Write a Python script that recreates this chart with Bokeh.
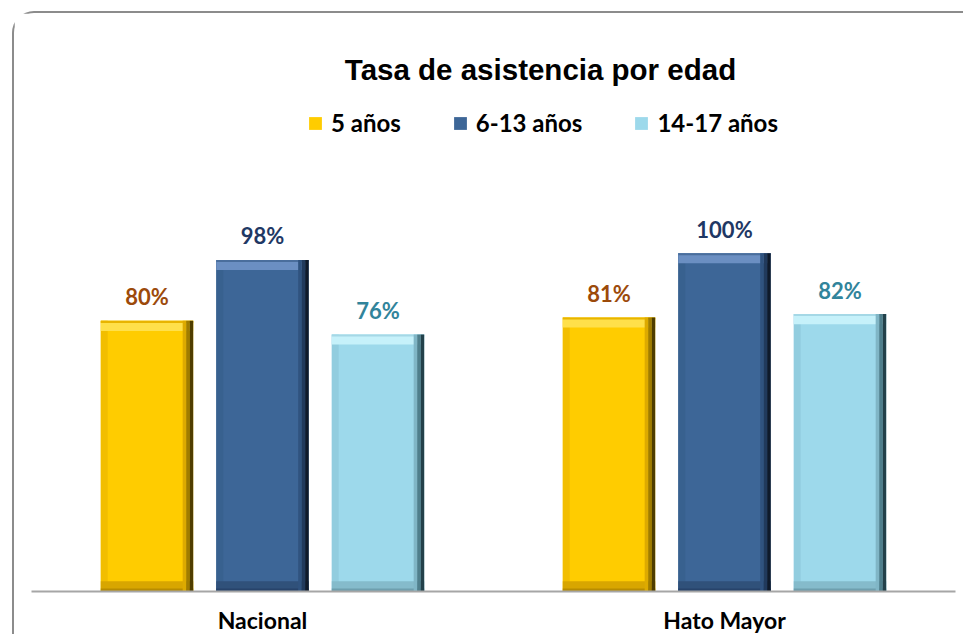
from bokeh.plotting import figure
from bokeh.models import ColumnDataSource, FactorRange, Range1d, Label, Legend, LegendItem
from bokeh.transform import dodge
from bokeh.core.properties import value
from bokeh.embed import file_html
from bokeh.resources import INLINE

# ---------------- data ----------------
categories = ["Nacional", "Hato Mayor"]
series_names = ["5 años", "6-13 años", "14-17 años"]
age_5 = [0.80, 0.81]
age_6_13 = [0.98, 1.00]
age_14_17 = [0.76, 0.82]
title_text = "Tasa de asistencia por edad"

series_values = [age_5, age_6_13, age_14_17]

# ---------------- styles ----------------
offsets = [-0.25, 0.0, 0.25]
bar_w = 0.2
main_colors = ["#FFCC00", "#3D6697", "#9DD9EB"]
top_edge = ["#E8B400", "#4A6E9C", "#A5D8E6"]
top_light = ["#FFE04A", "#6B8FC2", "#C6F1FA"]
left_colors = ["#F2BE00", "#38618F", "#92CDDF"]
right1 = ["#DDAA00", "#30537F", "#80B6C6"]
right2 = ["#A07C00", "#213A5C", "#4F7F8C"]
right3 = ["#4F3D00", "#0F1A2A", "#23414A"]
bottom_colors = ["#D8A600", "#30517A", "#85BBCB"]
bottom_edge = ["#B88C00", "#27436A", "#6E9FAE"]
label_colors = ["#9C4A0A", "#1F3864", "#31849B"]
top_band = 0.03
top_line = 0.006
bot_band = 0.03
bot_line = 0.009
side = 0.0076
left_w = 0.015

p = figure(
    x_range=FactorRange(*categories, range_padding=0),
    y_range=Range1d(0, 1.605),
    width=951, height=623,
    output_backend="svg", toolbar_location=None,
    y_axis_location=None,
    min_border_left=17, min_border_right=10,
    min_border_top=35, min_border_bottom=44,
)
p.styles = {
    "margin-left": "12px", "margin-top": "11px",
    "border-left": "2px solid #8C8C8C", "border-top": "2px solid #8C8C8C",
    "border-top-left-radius": "22px",
}
p.outline_line_color = None
p.xgrid.visible = False
p.ygrid.visible = False
p.background_fill_color = "white"
p.border_fill_color = "white"


def strip(src, xoff, w, top, bottom, color):
    return p.vbar(x=dodge("cat", xoff, range=p.x_range), top=top, bottom=bottom, width=w,
                  fill_color=color, line_color=None, source=src)


main_renderers = []
for i, vals in enumerate(series_values):
    src = ColumnDataSource(dict(
        cat=categories,
        v=vals,
        v_e=[v - top_line for v in vals],
        v_lo=[v - top_band for v in vals],
        b_hi=[bot_band for _ in vals],
        b_e=[bot_line for _ in vals],
        zero=[0 for _ in vals],
        lbl=[f"{round(v * 100)}%" for v in vals],
    ))
    off = offsets[i]
    main_renderers.append(strip(src, off, bar_w, "v", "zero", main_colors[i]))
    # left bevel
    strip(src, off - bar_w / 2 + left_w / 2, left_w, "v", "zero", left_colors[i])
    # bottom bevel
    strip(src, off, bar_w, "b_hi", "zero", bottom_colors[i])
    strip(src, off, bar_w, "b_e", "zero", bottom_edge[i])
    # top bevel
    strip(src, off, bar_w, "v", "v_lo", top_light[i])
    strip(src, off, bar_w, "v", "v_e", top_edge[i])
    # right shading
    strip(src, off + bar_w / 2 - side * 2.5, side, "v", "zero", right1[i])
    strip(src, off + bar_w / 2 - side * 1.5, side, "v", "zero", right2[i])
    strip(src, off + bar_w / 2 - side * 0.5, side, "v", "zero", right3[i])
    # value labels
    p.text(x=dodge("cat", off, range=p.x_range), y="v", text="lbl", source=src,
           text_align="center", text_baseline="alphabetic", y_offset=-24,
           text_font=value("Lato"), text_font_style="bold", text_font_size="22px",
           text_color=label_colors[i])

# x axis
ax = p.xaxis[0]
ax.axis_line_color = "#A6A6A6"
ax.axis_line_width = 2
ax.major_tick_line_color = None
ax.minor_tick_line_color = None
ax.major_label_standoff = 8
ax.major_label_text_font = "Lato"
ax.major_label_text_font_style = "bold"
ax.major_label_text_font_size = "23px"
ax.major_label_text_color = "black"

# title
p.add_layout(Label(x=509, y=522, x_units="screen", y_units="screen", text=title_text,
                   text_align="center", text_baseline="alphabetic",
                   text_font="Liberation Sans", text_font_style="bold",
                   text_font_size="29.5px", text_color="black"))

# legend
legend = Legend(
    items=[LegendItem(label=series_names[i], renderers=[main_renderers[i]]) for i in range(3)],
    orientation="horizontal", location=(276, 454),
    padding=0, margin=0, spacing=51, label_standoff=8,
    glyph_width=16, glyph_height=16,
    border_line_color=None, background_fill_alpha=0,
    label_text_font="Lato", label_text_font_style="bold", label_text_font_size="24px",
    label_text_color="black",
)
p.add_layout(legend)

open("out.html", "w").write(file_html(p, INLINE))
